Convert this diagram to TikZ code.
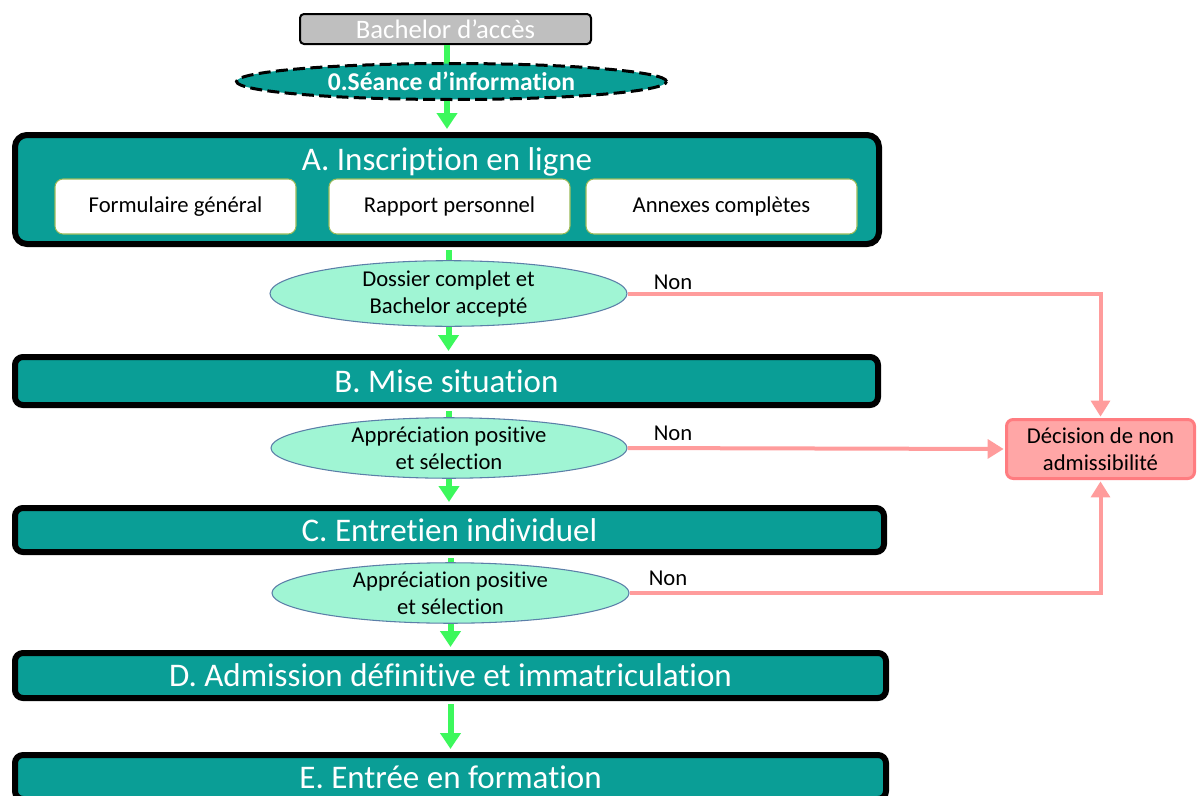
\documentclass[tikz,border=0pt]{standalone}
\usepackage{fontspec}
\setmainfont[Ligatures=CommonOff]{Carlito}
\usetikzlibrary{shapes.geometric,arrows.meta,calc}
\definecolor{tealA}{HTML}{0A9E96}
\definecolor{mintC}{HTML}{A0F5D4}
\definecolor{condB}{HTML}{5B7FA8}
\definecolor{greenF}{HTML}{3CF85C}
\definecolor{redL}{HTML}{FF9C9C}
\definecolor{redFill}{HTML}{FFA6A6}
\definecolor{redBorder}{HTML}{FF7C80}
\definecolor{oliveB}{HTML}{9BBB59}
\definecolor{grayB}{HTML}{BFBFBF}
\begin{document}
\begin{tikzpicture}[x=0.75pt,y=-0.75pt,
  stage/.style={draw=black, line width=4.5pt, fill=tealA, rounded corners=6pt, text=white,
    font=\fontsize{24.75}{28}\selectfont, inner sep=0pt},
  subbox/.style={draw=oliveB, line width=0.8pt, fill=white, rounded corners=6pt,
    font=\fontsize{17}{20}\selectfont, inner sep=0pt, minimum height=41.25pt},
  cond/.style={ellipse, draw=condB, line width=0.8pt, fill=mintC, align=center, inner sep=0pt,
    font=\fontsize{17}{20.25}\selectfont},
  gline/.style={draw=greenF, line width=4.5pt},
  gflow/.style={draw=greenF, line width=4.5pt, -{Triangle[width=15pt,length=12pt]}},
  rflow/.style={draw=redL, line width=3pt, -{Triangle[width=14pt,length=12pt]}},
  nonlbl/.style={font=\fontsize{17}{20}\selectfont, inner sep=0pt}
]
\useasboundingbox (0,0) rectangle (1200,796);
\fill[white] (0,0) rectangle (1200,796);
\coordinate (axis) at (447,0);

% top
\node[draw=black, line width=1.5pt, fill=grayB, rounded corners=3pt, text=white, inner sep=0pt,
  minimum width=218.25pt, minimum height=22.5pt, font=\fontsize{20}{24}\selectfont]
  (bach) at (445.5,29) {Bachelor d’accès};
\draw[gline] (bach.south -| axis) -- (447,70);
\node[ellipse, draw=black, line width=2.25pt, dash pattern=on 9pt off 4pt, fill=tealA, text=white,
  inner sep=0pt, minimum width=322.5pt, minimum height=27pt, font=\bfseries\fontsize{19.2}{22}\selectfont]
  (e0) at (451.5,81.5) {0.Séance d’information};

% A
\node[stage, rounded corners=9pt, minimum width=648pt, minimum height=81.75pt] (A) at (447,189.5) {};
\node[text=white, font=\fontsize{24.75}{28}\selectfont, inner sep=0pt] (Atitle) at (447,162) {A. Inscription en ligne};
\node[subbox, minimum width=180.75pt] (s1) at (175.5,206.5) {Formulaire général};
\node[subbox, minimum width=180.75pt] (s2) at (449.5,206.5) {Rapport personnel};
\node[subbox, minimum width=203.25pt] (s3) at (721.5,206.5) {Annexes complètes};

% conditions and stages
\node[cond, minimum width=267.75pt, minimum height=47.25pt] (e1) at (448.5,293.5) {Dossier complet et\\Bachelor accepté};
\node[stage, minimum width=647.25pt, minimum height=36pt] (B) at (446.5,381) {B. Mise situation};
\node[cond, minimum width=267pt, minimum height=45pt] (e2) at (449,448) {Appréciation positive\\et sélection};
\node[stage, minimum width=651.75pt, minimum height=33pt] (C) at (449.5,530) {C. Entretien individuel};
\node[cond, minimum width=267.75pt, minimum height=45pt] (e3) at (450.5,593) {Appréciation positive\\et sélection};
\node[stage, minimum width=653.25pt, minimum height=33.75pt] (D) at (450.5,675.5) {D. Admission définitive et immatriculation};
\node[stage, minimum width=653.25pt, minimum height=33pt] (E) at (450.5,777) {E. Entrée en formation};

% refusal
\node[draw=redBorder, line width=2.25pt, fill=redFill, rounded corners=5pt, inner sep=0pt, align=center,
  minimum width=141pt, minimum height=44.25pt, font=\fontsize{17}{20.25}\selectfont]
  (R) at (1100.5,449) {Décision de non\\admissibilité};

% green flow
\draw[gflow, shorten >=2.25pt] (e0.south -| axis) -- (A.north -| axis);
\draw[gline, shorten <=2.25pt] (e1.north |- A.south) -- (e1.north);
\draw[gflow, shorten >=2.25pt] (e1.south) -- (e1.south |- B.north);
\draw[gline, shorten <=2.25pt] (e2.north |- B.south) -- (e2.north);
\draw[gflow, shorten >=2.25pt] (e2.south) -- (e2.south |- C.north);
\draw[gline, shorten <=2.25pt] (e3.north |- C.south) -- (e3.north);
\draw[gflow, shorten >=2.25pt] (e3.south) -- (e3.south |- D.north);
\draw[gflow, shorten <=2.25pt, shorten >=2.25pt] (D.south) -- (D.south |- E.north);

% red flow
\draw[rflow, shorten >=1pt] (e1.east) -- (e1.east -| R.north) -- (R.north);
\draw[rflow, shorten >=1pt] (e2.east) -- (R.west);
\draw[rflow, shorten >=1pt] (e3.east) -- (e3.east -| R.south) -- (R.south);
\node[nonlbl] (n1) at (673,282) {Non};
\node[nonlbl] (n2) at (673,433) {Non};
\node[nonlbl] (n3) at (668,578) {Non};
\end{tikzpicture}
\end{document}
